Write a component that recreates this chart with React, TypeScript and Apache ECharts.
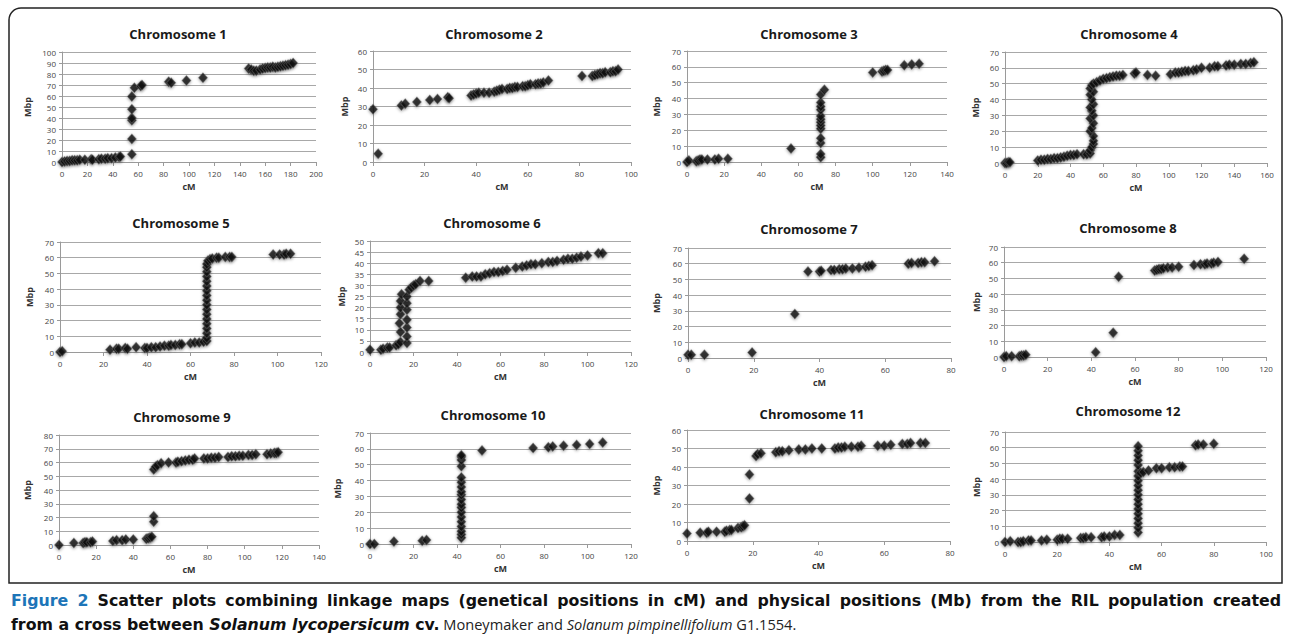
import React, { useEffect, useRef } from "react";
import * as echarts from "echarts";

// ---------- Data (cM, Mbp) ----------
const chr1 = [[0,0],[2,0.5],[4,1],[6,1],[8,1.5],[10,1.5],[12,1.5],[14,2],[18,2],[23,2.5],[24,2],[29,2.5],[31,3],[34,3],[36,3.5],[39,3.5],[42,4],[45,4.5],[46,5],[55,7],[55,21],[55,38],[55,40],[55,48],[55,59.5],[57,67.5],[62,69],[63,70],[84,73],[86,72],[98,74],[111,76.5],[147,85],[149,84],[151,83],[153,83],[156,84],[158,85],[160,85.5],[162,86],[164,86],[166,86.5],[168,86],[170,86.5],[172,87],[174,87.5],[176,88],[178,88.5],[180,89],[182,90]];
const chr2 = [[0,28.5],[2,4.5],[11,30.5],[12.5,31.5],[17,32.5],[22,33.5],[25,34],[29,35],[29.5,34.5],[38,36],[39,36.5],[40,37],[41,37.5],[43,37.5],[45,37.5],[47,38],[48,38.5],[49,39],[50,39.5],[52,39.5],[53,40],[54,40],[55,40.5],[56,40.5],[58,41],[59,41],[60,41.5],[61,42],[63,42],[64,42.5],[65,42.5],[66,43],[68,44],[81,46.5],[85,46.5],[86,47],[87,47.5],[88,48],[89,48],[90,48.5],[92,48.5],[93,49],[94,49],[95,50]];
const chr3 = [[0,0],[1,1],[5,0.5],[6,1],[7,1.5],[8,1.5],[11,1.5],[15,1.5],[17,2],[22,2],[56,8.5],[72,3],[72,5],[72,12],[72,15],[72,21],[72,23],[72,25],[72,27],[72,29],[72,33],[72,35],[72,37.5],[72,42.5],[74,45.5],[100,56.5],[105,57],[106,57.5],[107,58],[108,58],[117,61],[121,61.5],[125,62]];
const chr4 = [[0,0],[1,0],[2,0.5],[3,0.5],[20,1.5],[22,2],[24,2],[26,2.5],[28,2.5],[30,3],[32,3],[34,3.5],[36,4],[38,4.5],[40,5],[42,5],[44,5.5],[48,5.5],[50,5.5],[52,6],[52,8],[53,10],[54,12],[54,14],[54,17],[52,20],[53,22],[54,25],[52,28],[54,30],[53,33],[52,35],[54,37],[53,40],[52,43],[54,45],[52,47],[53,49],[54,50],[56,51],[58,52],[60,53],[62,53.5],[64,54],[66,54.5],[68,55],[70,55],[72,55.5],[79,56.5],[80,57],[87,55.5],[92,55],[101,56],[104,57],[106,57],[108,57.5],[110,58],[112,58],[115,58.5],[117,59],[120,60],[125,60],[128,61],[130,61],[135,61.5],[137,62],[140,62],[144,62.5],[147,62.5],[150,63],[152,63.5]];
const chr5 = [[0,0],[1,0.5],[23,1.5],[26,2],[27,2],[30,2.5],[31,2],[35,3],[39,2.5],[40,2.5],[42,3],[44,3],[46,3.5],[48,4],[50,4],[51,4.5],[53,4.5],[55,5],[56,5],[60,5.5],[62,6],[64,6],[66,6.5],[67.5,7],[67.5,9],[67.5,12],[67.5,15],[67.5,18],[67.5,21],[67.5,24],[67.5,27],[67.5,30],[67.5,33],[67.5,36],[67.5,39],[67.5,42],[67.5,45],[67.5,48],[67.5,51],[67.5,54],[67.5,56],[68,58],[69,59],[70,59.5],[72,60],[73,60],[76,60.5],[78,60.5],[79,60.5],[98,62],[101,62],[103,62],[104,62.5],[106,62.5]];
const chr6 = [[0,1],[5,1],[6,1.5],[8,2],[9,2],[12,3],[13,3.5],[14,4.5],[14,9],[13.5,13],[14,17],[14,20],[14,23],[14.5,26],[17,4],[17,7],[17,11],[17,14.5],[17,19],[17,22],[17,25],[18,28],[19,29],[20,30],[21,30.5],[23,32],[27,32],[44,33.5],[47,34],[49,34],[51,34],[53,35],[55,35.5],[57,36],[59,36],[61,36.5],[63,37],[67,38],[70,38.5],[72,39],[74,39.5],[76,39.5],[79,40],[82,40.5],[84,40.5],[86,41],[89,41.5],[91,42],[93,42],[95,42.5],[97,43],[100,43.5],[105,44.5],[107,44.5]];
const chr7 = [[0,2],[1,2],[5,2],[19.5,3.5],[32.5,28],[36.5,55],[40,55],[40.5,55.5],[43.5,56],[44.5,56],[46,56.5],[47,56.5],[48,57],[50,57],[52,57.5],[54,58],[55,58.5],[56,59],[67,60],[68,60.5],[70,60.5],[71,61],[72,61],[75,61.5]];
const chr8 = [[0,0],[1,0.5],[3.5,0.5],[7,0.5],[8,1],[9,1],[10,1.5],[42,3],[50,15.5],[52.5,51],[69,55],[70,55.5],[71,56],[72,56],[73,56.5],[75,57],[77,57],[80,57.5],[87,58.5],[90,59],[92,59],[93,59.5],[95,59.5],[96,60],[98,60.5],[110,62.5]];
const chr9 = [[0,0],[8,1.5],[13,1.5],[14,2],[15,2],[17,2],[18,2.5],[29,3],[31,3.5],[34,3.5],[36,4],[40,4],[47,4.5],[48,5],[49,5.5],[50,6],[51,17],[51,21],[51,55],[52,57],[53,58],[55,59.5],[59,60],[63,60],[64,60.5],[66,61],[68,61.5],[70,62],[72,62],[73,63],[78,63],[80,63],[82,63.5],[84,63.5],[86,64],[91,64],[93,64.5],[95,64.5],[97,65],[99,65],[102,65.5],[104,65.5],[106,66],[112,66],[114,66.5],[116,67],[117,67],[118,67.5]];
const chr10 = [[0,0],[2,0],[11,1.5],[24,2],[26,2.5],[42,4],[42,6],[42,8],[42,11],[42,14],[42,17],[42,20],[42,23],[42,25],[42,28],[42,31],[42,33],[42,36],[42,39],[42,42],[42,49],[42,53],[42,55],[42,56],[51.5,59],[75,60.5],[82,61],[84,61.5],[89,62],[95,62.5],[101,63],[107,64]];
const chr11 = [[0,4],[4,4.5],[6,4.5],[6.5,5],[9,5],[11.5,5],[12,5.5],[13,6],[13.5,6],[15.5,7],[16.5,7.5],[17,8],[17.5,8.5],[19,23],[19,36],[21,46],[21.5,47],[22.5,47.5],[27,48],[28,48.5],[29,48.5],[31,49],[34,49.5],[36,49.5],[38,50],[41,50],[45,50],[46,50.5],[47,50.5],[48,51],[50,51],[52,51],[53,51.5],[58,51.5],[60,51.5],[62,52],[65.5,52.5],[67,52.5],[68,53],[71,53],[72.5,53]];
const chr12 = [[0,0],[2,0.5],[5,0],[6,0],[7,0.5],[9,1],[10,1],[14,1],[16,1.5],[20,1.5],[21,2],[22,2],[24,2],[29,2.5],[30,2.5],[31,3],[33,3],[37,3],[38,3.5],[40,3.5],[42,4.5],[44,4.5],[51,6],[51,9],[51,12],[51,15],[51,18],[51,21],[51,24],[51,27],[51,30],[51,33],[51,36],[51,39],[51,42],[51,45],[51,49],[51,52],[51,55],[51,58],[51,61],[52,44],[53,44.5],[55,45.5],[58,47],[60,47],[63,47.5],[65,47.5],[67,48],[68,48],[73,61.5],[74,62],[76,62],[80,62.5]];

const chromosomeData = [chr1, chr2, chr3, chr4, chr5, chr6, chr7, chr8, chr9, chr10, chr11, chr12];
const panelTitles = ["Chromosome 1","Chromosome 2","Chromosome 3","Chromosome 4","Chromosome 5","Chromosome 6","Chromosome 7","Chromosome 8","Chromosome 9","Chromosome 10","Chromosome 11","Chromosome 12"];
const xMaxes = [200, 100, 140, 160, 120, 120, 80, 120, 140, 120, 80, 100];
const yMaxes = [100, 60, 70, 70, 70, 50, 70, 70, 80, 70, 60, 70];
const yIntervals = [10, 10, 10, 10, 10, 5, 10, 10, 10, 10, 10, 10];
const xInterval = 20;
const xAxisName = "cM";
const yAxisName = "Mbp";

const captionLabel = "Figure 2";
const captionLine1 = "Scatter plots combining linkage maps (genetical positions in cM) and physical positions (Mb) from the RIL population created";

// ---------- Layout (pixels) ----------
const gridBoxes = [
  [62, 52, 254, 110], [373, 51, 258, 111], [687, 51, 260, 111], [1005, 52, 262, 111],
  [60, 242, 261, 110], [370, 241, 261, 111], [688, 248, 263, 110], [1004, 247, 262, 110],
  [59, 435, 260, 110], [370, 433, 261, 111], [687, 430, 263, 111], [1005, 432, 261, 110],
];
const titleCenters = [
  [173, 33], [489, 33], [804, 33], [1124, 33],
  [176, 222], [487, 222], [804, 228], [1123, 227],
  [177, 416], [488, 414], [807, 413], [1123, 410],
];
const yNameGaps = [30, 24, 26, 25, 26, 24, 27, 23, 27, 28, 26, 24];

const FONT = "'Open Sans', 'Liberation Sans', sans-serif";
const CAP_BOLD_FONT = "'DejaVu Sans', 'Open Sans', sans-serif";
const CAP_BOLD_SIZE = 15.8;
const CAP_REG_SIZE = 14.6;

function measure(text: string, font: string): number {
  const c = document.createElement("canvas").getContext("2d");
  if (!c) return text.length * 9;
  c.font = font;
  return c.measureText(text).width;
}

function justifiedLine(): { text: string; gap: number } {
  const labelWords = captionLabel.split(" ").map((w) => ({ w, s: "blue" }));
  const bodyWords = captionLine1.split(" ").map((w) => ({ w, s: "b" }));
  const words = [...labelWords, ...bodyWords];
  const font = `bold ${CAP_BOLD_SIZE}px 'DejaVu Sans'`;
  const total = words.reduce((a, x) => a + measure(x.w, font), 0);
  const target = 1270;
  const gap = Math.max(4, (target - total) / (words.length - 1));
  const text = words
    .map((x, i) => `{${x.s}|${x.w}}` + (i < words.length - 1 ? `{g| }` : ""))
    .join("");
  return { text, gap };
}

export default function App() {
  const ref = useRef<HTMLDivElement>(null);
  useEffect(() => {
    if (!ref.current) return;
    const chart = echarts.init(ref.current, undefined, { renderer: "svg" });
    const grids: any[] = [];
    const xAxes: any[] = [];
    const yAxes: any[] = [];
    const series: any[] = [];
    const titles: any[] = [];
    chromosomeData.forEach((d, i) => {
      const [l, t, w, h] = gridBoxes[i];
      grids.push({ left: l, top: t, width: w, height: h, containLabel: false });
      xAxes.push({
        type: "value", gridIndex: i, min: 0, max: xMaxes[i], interval: xInterval,
        name: xAxisName, nameLocation: "middle", nameGap: 20,
        nameTextStyle: { fontFamily: FONT, fontSize: 9, fontWeight: "bold", color: "#333" },
        axisLine: { show: true, onZero: false, lineStyle: { color: "#9a9a9a", width: 1 } },
        axisTick: { show: true, length: 4, lineStyle: { color: "#9a9a9a" } },
        axisLabel: { fontFamily: FONT, fontSize: 8, color: "#444", margin: 7 },
        splitLine: { show: false },
      });
      yAxes.push({
        type: "value", gridIndex: i, min: 0, max: yMaxes[i], interval: yIntervals[i],
        name: yAxisName, nameLocation: "middle", nameGap: yNameGaps[i], nameRotate: 90,
        nameTextStyle: { fontFamily: FONT, fontSize: 9, fontWeight: "bold", color: "#333" },
        axisLine: { show: true, lineStyle: { color: "#9a9a9a", width: 1 } },
        axisTick: { show: true, length: 3, lineStyle: { color: "#9a9a9a" } },
        axisLabel: { fontFamily: FONT, fontSize: 8, color: "#444", margin: 6 },
        splitLine: { show: true, lineStyle: { color: "#a8a8a8", width: 1 } },
      });
      series.push({
        type: "scatter", xAxisIndex: i, yAxisIndex: i, data: d,
        symbol: "diamond", symbolSize: [9, 10], clip: false,
        itemStyle: {
          color: "#0d0d0d", borderColor: "rgba(110,110,110,0.55)", borderWidth: 1,
          shadowBlur: 3, shadowColor: "rgba(0,0,0,0.45)", shadowOffsetY: 1,
        },
      });
      titles.push({
        text: panelTitles[i], left: titleCenters[i][0], top: titleCenters[i][1] - 11,
        textAlign: "center",
        textStyle: { fontFamily: FONT, fontSize: 13, fontWeight: "bold", color: "#1a1a1a" },
      });
    });

    const line1 = justifiedLine();

    chart.setOption({
      animation: false,
      backgroundColor: "#ffffff",
      title: titles,
      grid: grids,
      xAxis: xAxes,
      yAxis: yAxes,
      series,
      graphic: [
        {
          type: "rect", silent: true,
          shape: { x: 9, y: 8, width: 1273, height: 575, r: [12, 12, 0, 0] },
          style: { fill: "none", stroke: "#222", lineWidth: 1.5 },
        },
        {
          type: "text", left: 11, top: 592,
          style: {
            text: line1.text,
            rich: {
              blue: { fontFamily: CAP_BOLD_FONT, fontSize: CAP_BOLD_SIZE, fontWeight: "bold", fill: "#1d75b8" },
              b: { fontFamily: CAP_BOLD_FONT, fontSize: CAP_BOLD_SIZE, fontWeight: "bold", fill: "#111" },
              g: { fontFamily: CAP_BOLD_FONT, fontSize: CAP_BOLD_SIZE, width: line1.gap },
            },
          },
        },
        {
          type: "text", left: 11, top: 616,
          style: {
            text: "{b|from a cross between }{bi|Solanum lycopersicum}{b| cv.}{r| Moneymaker and }{ri|Solanum pimpinellifolium}{r| G1.1554.}",
            rich: {
              b: { fontFamily: CAP_BOLD_FONT, fontSize: CAP_BOLD_SIZE, fontWeight: "bold", fill: "#111" },
              bi: { fontFamily: CAP_BOLD_FONT, fontSize: CAP_BOLD_SIZE, fontWeight: "bold", fontStyle: "italic", fill: "#111" },
              r: { fontFamily: FONT, fontSize: CAP_REG_SIZE, fill: "#222" },
              ri: { fontFamily: FONT, fontSize: CAP_REG_SIZE, fontStyle: "italic", fill: "#222" },
            },
          },
        },
      ],
    });
    return () => chart.dispose();
  }, []);
  return (
    <div
      ref={ref}
      style={{ position: "fixed", left: 0, top: 0, width: 1290, height: 644, background: "#fff" }}
    />
  );
}
